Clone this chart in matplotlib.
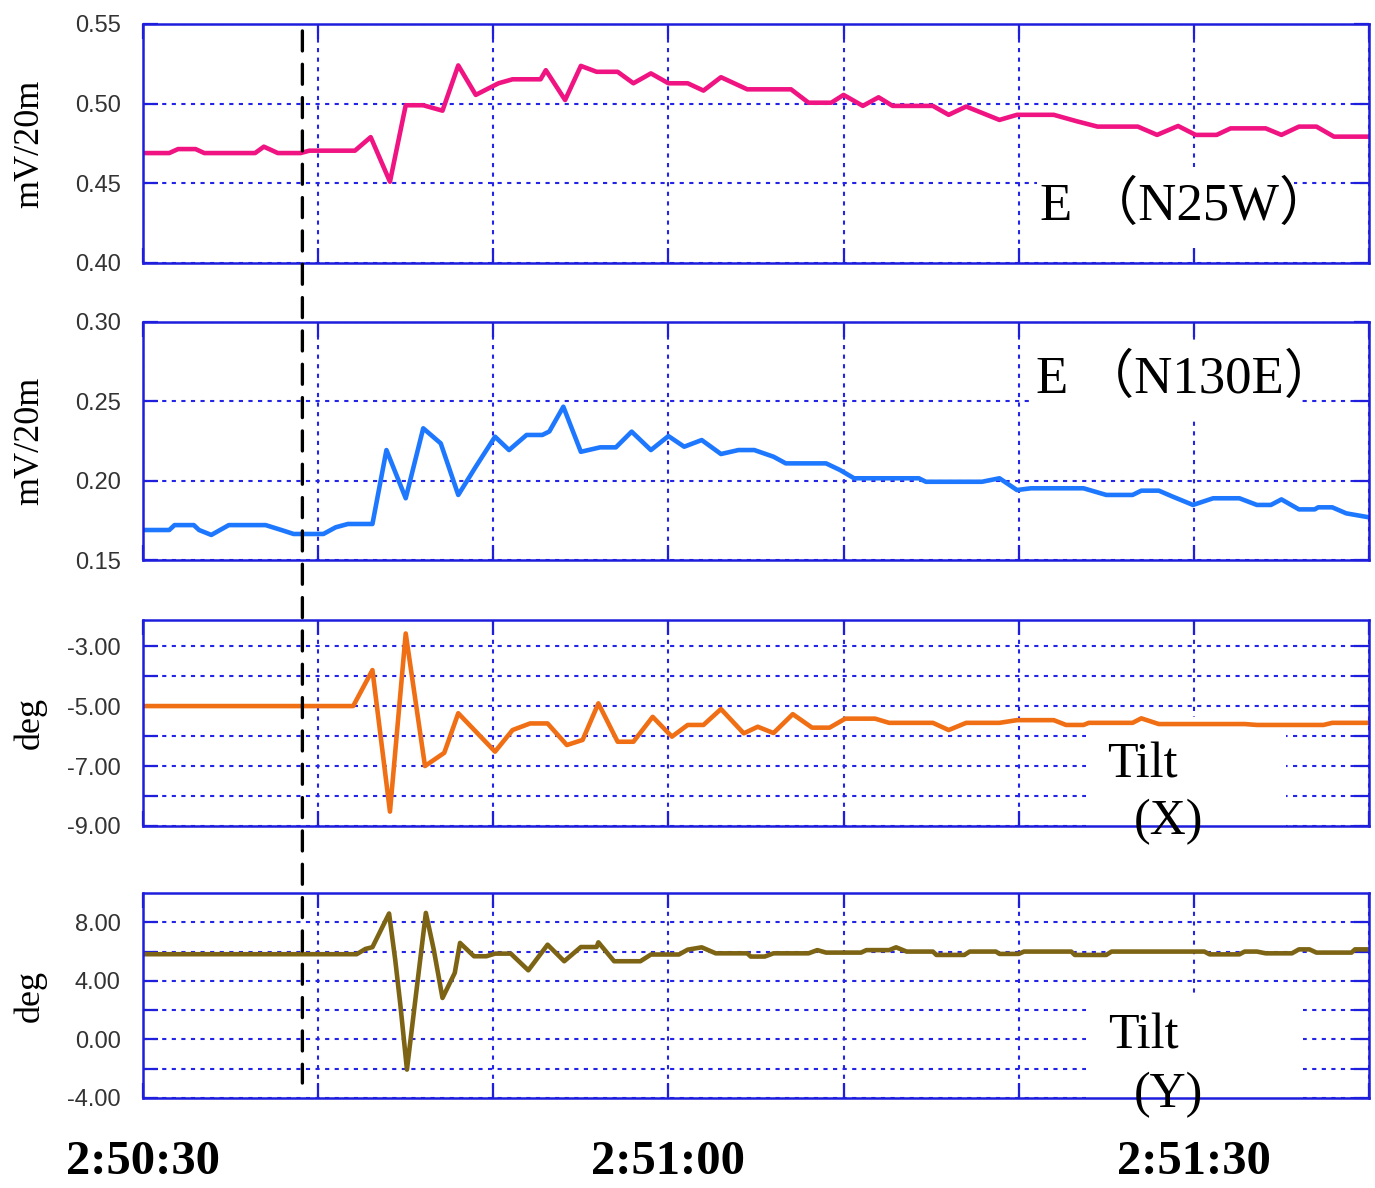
#!/usr/bin/env python3
"""
Geoelectric field and tilt records around the 2:50:30 - 2:51:40 event
Four stacked panels: E (N25W), E (N130E), Tilt (X), Tilt (Y)
"""

import matplotlib
matplotlib.use('Agg')
import matplotlib.pyplot as plt
from matplotlib.patches import Rectangle, ConnectionPatch

# ---- data: time in seconds after 2:50:30 ----
ew_t = [0, 1.5, 2.0, 3.0, 3.5, 6.4, 6.9, 7.7, 9.0, 9.5, 12.1, 13.0, 14.1, 15.0,
        16.0, 17.1, 18.0, 19.0, 20.3, 21.1, 22.7, 23.0, 24.1, 25.0, 25.9, 27.1,
        28.0, 29.0, 30.0, 31.1, 32.0, 33.0, 34.5, 37.0, 38.0, 39.3, 40.0, 41.1,
        42.0, 42.8, 45.1, 46.0, 47.0, 48.9, 49.9, 52.0, 53.3, 54.5, 56.8, 57.9,
        59.1, 60.1, 61.3, 62.1, 64.1, 65.0, 66.0, 67.0, 68.0, 70.0]
ew_v = [0.469, 0.469, 0.4715, 0.4715, 0.469, 0.469, 0.473, 0.469, 0.469, 0.4705,
        0.4705, 0.479, 0.451, 0.499, 0.499, 0.4956, 0.524, 0.5055, 0.5128, 0.5153,
        0.5153, 0.521, 0.5023, 0.5237, 0.520, 0.520, 0.5128, 0.519, 0.5128, 0.5128,
        0.5082, 0.5166, 0.509, 0.509, 0.5006, 0.5006, 0.5055, 0.4986, 0.504, 0.4986,
        0.4986, 0.493, 0.4982, 0.4898, 0.493, 0.493, 0.489, 0.4856, 0.4856, 0.4804,
        0.486, 0.4804, 0.4804, 0.4845, 0.4845, 0.4804, 0.4856, 0.4856, 0.4793, 0.4793]

ns_t = [0, 1.5, 1.8, 2.9, 3.2, 3.9, 4.9, 7.0, 7.9, 8.6, 10.3, 11.0, 11.7, 13.1,
        13.9, 15.0, 16.0, 17.0, 18.0, 19.0, 20.1, 20.9, 21.9, 22.8, 23.2, 24.0,
        25.0, 26.1, 27.0, 27.9, 29.0, 30.0, 30.9, 31.9, 33.0, 34.0, 34.9, 36.0,
        36.7, 39.0, 39.8, 40.6, 44.3, 44.7, 47.9, 48.9, 49.9, 50.7, 53.7, 55.0,
        56.5, 57.0, 58.0, 58.8, 59.95, 61.1, 62.6, 63.6, 64.4, 65.0, 66.0, 66.9,
        67.1, 67.9, 68.7, 70.0]
ns_v = [0.1689, 0.1689, 0.172, 0.172, 0.1689, 0.1658, 0.172, 0.172, 0.1689, 0.1664,
        0.1664, 0.1706, 0.1727, 0.1727, 0.2193, 0.1889, 0.233, 0.2235, 0.191, 0.2088,
        0.2277, 0.2193, 0.2288, 0.2288, 0.231, 0.2466, 0.2182, 0.221, 0.221, 0.2309,
        0.2193, 0.2281, 0.2214, 0.2256, 0.2168, 0.2193, 0.2193, 0.2151, 0.2109, 0.2109,
        0.2067, 0.2015, 0.2015, 0.1993, 0.1993, 0.2015, 0.1941, 0.1952, 0.1952, 0.191,
        0.191, 0.1937, 0.1937, 0.1899, 0.1847, 0.1889, 0.1889, 0.1847, 0.1847, 0.1882,
        0.1819, 0.1819, 0.1832, 0.1832, 0.1794, 0.1769]

tx_t = [0, 12.0, 13.1, 14.1, 15.0, 16.1, 17.2, 18.0, 20.1, 21.1, 22.1, 23.1, 24.2,
        25.1, 26.0, 27.1, 28.0, 29.1, 30.2, 31.1, 32.0, 33.0, 34.3, 35.1, 36.0,
        37.1, 38.2, 39.2, 40.1, 41.8, 42.6, 45.1, 46.0, 47.0, 48.9, 49.9, 52.0,
        52.7, 53.7, 54.0, 56.5, 57.0, 58.0, 62.9, 63.6, 67.4, 67.9, 70.0]
tx_v = [-5.0, -5.0, -3.8, -8.52, -2.58, -7.0, -6.56, -5.24, -6.52, -5.8, -5.58,
        -5.58, -6.3, -6.13, -4.91, -6.19, -6.19, -5.36, -6.02, -5.63, -5.63, -5.1,
        -5.91, -5.69, -5.9, -5.27, -5.72, -5.72, -5.42, -5.42, -5.56, -5.56, -5.8,
        -5.56, -5.56, -5.47, -5.47, -5.63, -5.63, -5.56, -5.56, -5.41, -5.6, -5.6,
        -5.63, -5.63, -5.56, -5.56]

ty_t = [0, 12.2, 12.7, 13.1, 14.05, 14.4, 14.7, 15.07, 15.6, 16.15, 16.6, 17.1,
        17.8, 18.1, 18.9, 19.6, 20.1, 21.0, 22.0, 23.1, 24.05, 25.0, 25.9, 26.0,
        26.9, 28.4, 29.0, 30.6, 31.1, 31.9, 32.7, 34.5, 34.7, 35.5, 36.0, 38.0,
        38.5, 39.0, 41.0, 41.3, 42.6, 43.0, 43.6, 45.1, 45.3, 46.9, 47.2, 48.7,
        48.9, 50.0, 50.3, 53.0, 53.2, 55.0, 55.3, 60.6, 60.9, 62.6, 62.9, 63.6,
        64.1, 65.6, 66.0, 66.6, 67.0, 69.0, 69.2, 70.0]
ty_v = [5.82, 5.82, 6.18, 6.3, 8.6, 5.45, 2.3, -2.06, 3.2, 8.64, 6.14, 2.83,
        4.54, 6.59, 5.68, 5.68, 5.86, 5.86, 4.72, 6.47, 5.34, 6.31, 6.31, 6.63,
        5.34, 5.34, 5.8, 5.8, 6.13, 6.29, 5.88, 5.88, 5.66, 5.66, 5.88, 5.88,
        6.1, 5.93, 5.93, 6.1, 6.1, 6.29, 6.0, 6.0, 5.77, 5.77, 6.0, 6.0,
        5.84, 5.84, 6.0, 6.0, 5.77, 5.77, 6.0, 6.0, 5.81, 5.81, 6.0, 6.0,
        5.88, 5.88, 6.15, 6.15, 5.93, 5.93, 6.15, 6.15]

event_t = 9.1          # dashed marker (s after 2:50:30)
time_ticks = [0, 10, 20, 30, 40, 50, 60, 70]
time_labels = ['2:50:30', '', '', '2:51:00', '', '', '2:51:30', '']

SPINE_BLUE = '#1E1EDC'
GRID_BLUE = '#2424E8'
SERIF = ['Liberation Serif', 'DejaVu Serif']
CJK_SERIF = ['Liberation Serif', 'Noto Sans CJK SC', 'DejaVu Serif']
TICKFONT = ['Liberation Sans', 'DejaVu Sans']


def style_panel(ax, ylim, yticks, ylabels, ylabel):
    """Blue frame, dotted blue grid, inward ticks on all four sides"""
    ax.set_xlim(0, 70)
    ax.set_ylim(*ylim)
    ax.set_xticks(time_ticks)
    ax.set_yticks(yticks)
    ax.set_yticklabels(ylabels, fontfamily=TICKFONT)
    for sp in ax.spines.values():
        sp.set_color(SPINE_BLUE)
        sp.set_linewidth(1.8)
    ax.tick_params(axis='both', direction='in', length=11, width=1.6,
                   color=SPINE_BLUE, left=True, right=True, top=True, bottom=True)
    ax.tick_params(axis='y', labelsize=17, labelcolor='#333333', pad=16)
    ax.tick_params(axis='x', labelbottom=False)
    ax.grid(True, color=GRID_BLUE, linestyle=(0, (2, 2.6)), linewidth=1.5)
    ax.text(-0.092, 0.5, ylabel, transform=ax.transAxes, rotation=90,
            ha='center', va='center', fontsize=26, family=SERIF)


def blank_box(ax, x, y, w, h):
    """White patch that hides the grid behind a panel caption"""
    ax.add_patch(Rectangle((x, y), w, h, transform=ax.transAxes,
                           facecolor='white', edgecolor='none', zorder=1.8))


def main():
    fig = plt.figure(figsize=(13.75, 11.88), dpi=100)
    H = 1188.0
    left, width = 143 / 1375, 1226 / 1375

    def add(top, bottom):
        return fig.add_axes([left, 1 - bottom / H, width, (bottom - top) / H])

    ax1 = add(24, 263)
    ax2 = add(322, 560)
    ax3 = add(620, 826)
    ax4 = add(893, 1098)

    # ===== E (N25W) =====
    style_panel(ax1, (0.40, 0.55), [0.40, 0.45, 0.50, 0.55],
                ['0.40', '0.45', '0.50', '0.55'], 'mV/20m')
    ax1.plot(ew_t, ew_v, color='#F01482', linewidth=3.3, zorder=2)
    blank_box(ax1, 0.729, 0.075, 0.21, 0.326)
    ax1.text(0.851, 0.238, 'E （N25W）', transform=ax1.transAxes, ha='center',
             va='center', fontsize=38, family=CJK_SERIF, zorder=5)

    # ===== E (N130E) =====
    style_panel(ax2, (0.15, 0.30), [0.15, 0.20, 0.25, 0.30],
                ['0.15', '0.20', '0.25', '0.30'], 'mV/20m')
    ax2.plot(ns_t, ns_v, color='#1E78FF', linewidth=3.3, zorder=2)
    blank_box(ax2, 0.725, 0.597, 0.217, 0.328)
    ax2.text(0.851, 0.76, 'E （N130E）', transform=ax2.transAxes, ha='center',
             va='center', fontsize=38, family=CJK_SERIF, zorder=5)

    # ===== Tilt (X) =====
    style_panel(ax3, (-9.0, -2.13), [-9, -8, -7, -6, -5, -4, -3],
                ['-9.00', '', '-7.00', '', '-5.00', '', '-3.00'], 'deg')
    ax3.plot(tx_t, tx_v, color='#F06E14', linewidth=3.3, zorder=2)
    blank_box(ax3, 0.769, 0.0, 0.163, 0.529)
    ax3.text(0.815, 0.296, 'Tilt', transform=ax3.transAxes, ha='center',
             va='center', fontsize=36, family=SERIF, zorder=5)
    ax3.text(0.8365, 0.02, '(X)', transform=ax3.transAxes, ha='center',
             va='center', fontsize=36, family=SERIF, zorder=5)

    # ===== Tilt (Y) =====
    style_panel(ax4, (-4.0, 10.0), [-4, -2, 0, 2, 4, 6, 8],
                ['-4.00', '', '0.00', '', '4.00', '', '8.00'], 'deg')
    ax4.plot(ty_t, ty_v, color='#7D6414', linewidth=3.3, zorder=2)
    blank_box(ax4, 0.769, 0.0, 0.177, 0.493)
    ax4.text(0.816, 0.30, 'Tilt', transform=ax4.transAxes, ha='center',
             va='center', fontsize=36, family=SERIF, zorder=5)
    ax4.text(0.8365, 0.015, '(Y)', transform=ax4.transAxes, ha='center',
             va='center', fontsize=36, family=SERIF, zorder=5)

    # time labels under the last panel
    ax4.set_xticklabels(time_labels, fontsize=35, fontweight='bold', family=SERIF)
    ax4.tick_params(axis='x', labelbottom=True, pad=30, labelcolor='black')

    # dashed event marker across all panels
    con = ConnectionPatch(xyA=(event_t, 0.971), coordsA=ax1.get_xaxis_transform(),
                          xyB=(event_t, 0.073), coordsB=ax4.get_xaxis_transform(),
                          color='black', linewidth=2.4, linestyle=(0, (6, 4)),
                          zorder=10)
    fig.add_artist(con)

    fig.savefig('out.png', dpi=100)


if __name__ == '__main__':
    main()
